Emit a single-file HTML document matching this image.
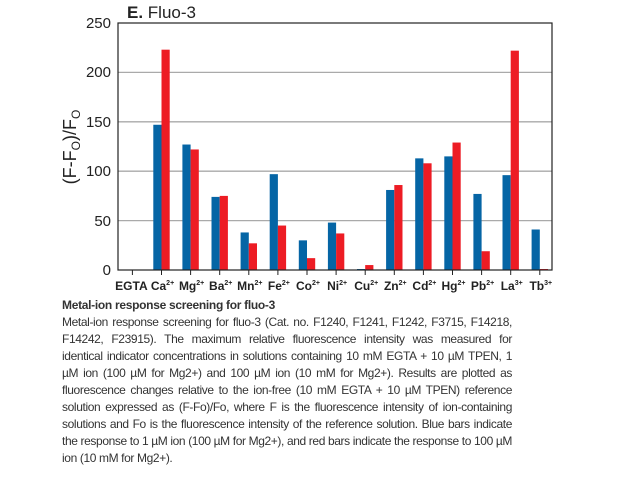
<!DOCTYPE html>
<html><head><meta charset="utf-8"><style>
body{margin:0;background:#fff;width:641px;height:484px;overflow:hidden;position:relative;font-family:"Liberation Sans",Arial,sans-serif}
.cap{position:absolute;left:62px;top:297px;width:450px;font-size:12px;line-height:17px;color:#333;letter-spacing:-0.38px}
.cap div{text-align:justify;text-align-last:justify;white-space:nowrap}
.cap div.l{text-align-last:left}
.cap b{color:#333;letter-spacing:-0.3px}
</style></head><body>
<svg width="641" height="300" style="position:absolute;left:0;top:0" font-family="Liberation Sans, Arial, sans-serif">
<g stroke="#aaa" stroke-width="1.3">
<line x1="118" y1="220.6" x2="552" y2="220.6"/>
<line x1="118" y1="171.2" x2="552" y2="171.2"/>
<line x1="118" y1="121.8" x2="552" y2="121.8"/>
<line x1="118" y1="72.4" x2="552" y2="72.4"/>
</g>
<g id="bars"></g>
<rect x="118" y="23" width="434" height="247" fill="none" stroke="#222" stroke-width="1.2"/>
<g font-size="15" fill="#222" text-anchor="end">
<text x="111" y="275">0</text><text x="111" y="226">50</text><text x="111" y="176">100</text>
<text x="111" y="127">150</text><text x="111" y="77">200</text><text x="111" y="28">250</text>
</g>
<text x="127" y="18" font-size="17" fill="#222"><tspan font-weight="bold">E.</tspan> Fluo-3</text>
<text transform="translate(76,147) rotate(-90)" font-size="18" fill="#222" text-anchor="middle">(F-F<tspan font-size="12" dy="4">O</tspan><tspan dy="-4">)/F</tspan><tspan font-size="12" dy="4">O</tspan></text>
<g id="lab" font-size="12" font-weight="bold" fill="#222" text-anchor="middle"></g>
</svg>
<div class="cap"><div class="l"><b>Metal-ion response screening for fluo-3</b></div>
<div>Metal-ion response screening for fluo-3 (Cat. no. F1240, F1241, F1242, F3715, F14218,</div>
<div>F14242, F23915). The maximum relative fluorescence intensity was measured for</div>
<div>identical indicator concentrations in solutions containing 10 mM EGTA + 10 µM TPEN, 1</div>
<div>µM ion (100 µM for Mg2+) and 100 µM ion (10 mM for Mg2+). Results are plotted as</div>
<div>fluorescence changes relative to the ion-free (10 mM EGTA + 10 µM TPEN) reference</div>
<div>solution expressed as (F-Fo)/Fo, where F is the fluorescence intensity of ion-containing</div>
<div>solutions and Fo is the fluorescence intensity of the reference solution. Blue bars indicate</div>
<div>the response to 1 µM ion (100 µM for Mg2+), and red bars indicate the response to 100 µM</div>
<div class="l">ion (10 mM for Mg2+).</div></div>
<script>
var d=[["EGTA","",0,0],["Ca","2+",147,223],["Mg","2+",127,122],["Ba","2+",74,75],["Mn","2+",38,27],["Fe","2+",97,45],["Co","2+",30,12],["Ni","2+",48,37],["Cu","2+",1,5],["Zn","2+",81,86],["Cd","2+",113,108],["Hg","2+",115,129],["Pb","2+",77,19],["La","3+",96,222],["Tb","3+",41,1]];
var ns="http://www.w3.org/2000/svg",b=document.getElementById("bars"),l=document.getElementById("lab");
function r(x,v,c){if(!v)return;var e=document.createElementNS(ns,"rect");var h=v*0.988;e.setAttribute("x",x);e.setAttribute("y",270-h);e.setAttribute("width",8.2);e.setAttribute("height",h);e.setAttribute("fill",c);b.appendChild(e);}
d.forEach(function(a,i){var c=132.4+29.1*i;r(c-8.2,a[2],"#0565a5");r(c,a[3],"#ed1c24");
var t=document.createElementNS(ns,"line");t.setAttribute("x1",c);t.setAttribute("x2",c);t.setAttribute("y1",270);t.setAttribute("y2",275);t.setAttribute("stroke","#222");b.appendChild(t);
var tx=document.createElementNS(ns,"text");tx.setAttribute("x",i==0?c-1:c+1);tx.setAttribute("y",290);tx.innerHTML=a[0]+(a[1]?'<tspan font-size="7" dy="-5">'+a[1]+'</tspan>':'');l.appendChild(tx);});
</script>
</body></html>
